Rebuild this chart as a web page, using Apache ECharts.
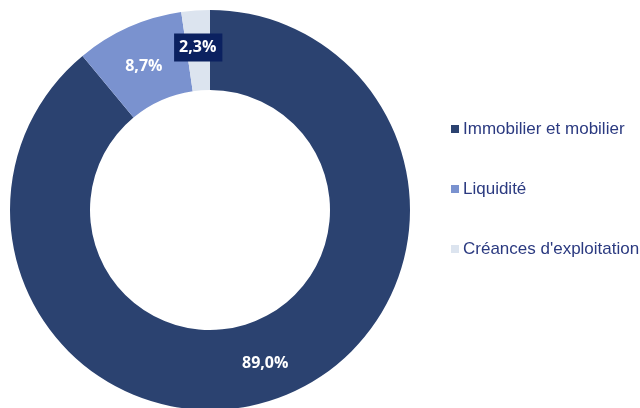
<!DOCTYPE html>
<html>
<head>
<meta charset="utf-8">
<script src="https://cdn.jsdelivr.net/npm/echarts@6/dist/echarts.min.js"></script>
<style>html,body{margin:0;padding:0;background:#fff}#c{width:640px;height:408px}</style>
</head>
<body>
<div id="c"></div>
<script>
const categories = ["Immobilier et mobilier", "Liquidité", "Créances d'exploitation"];
const values = [89.0, 8.7, 2.3];
const labels = ["89,0%", "8,7%", "2,3%"];
const colors = ["#2B4270", "#7A92CF", "#DCE4EF"];

const chart = echarts.init(document.getElementById('c'), null, {renderer: 'canvas'});
const data = categories.map((name, i) => {
  const item = {name: name, value: values[i], itemStyle: {color: colors[i]}};
  if (i === 1) {
    item.label = {offset: [0, 5]};
  }
  if (i === 2) {
    item.label = {backgroundColor: '#0B2160', padding: [6, 6, 6, 5]};
  }
  return item;
});
chart.setOption({
  animation: false,
  legend: {
    orient: 'vertical',
    left: 446,
    top: 114,
    itemWidth: 8,
    itemHeight: 8,
    itemGap: 40,
    icon: 'rect',
    data: categories,
    textStyle: {fontFamily: 'Liberation Sans, Arial, sans-serif', fontSize: 17, color: '#2B3A80', lineHeight: 20, padding: [0, 0, 0, -1]}
  },
  series: [{
    type: 'pie',
    center: [210, 210],
    radius: [120, 200],
    startAngle: 90,
    clockwise: true,
    avoidLabelOverlap: false,
    label: {
      show: true,
      position: 'inside',
      color: '#ffffff',
      fontFamily: 'Open Sans, sans-serif',
      fontWeight: 'bold',
      fontSize: 16,
      lineHeight: 16,
      formatter: p => labels[p.dataIndex]
    },
    labelLine: {show: false},
    emphasis: {disabled: true},
    data: data
  }]
});
</script>
</body>
</html>
